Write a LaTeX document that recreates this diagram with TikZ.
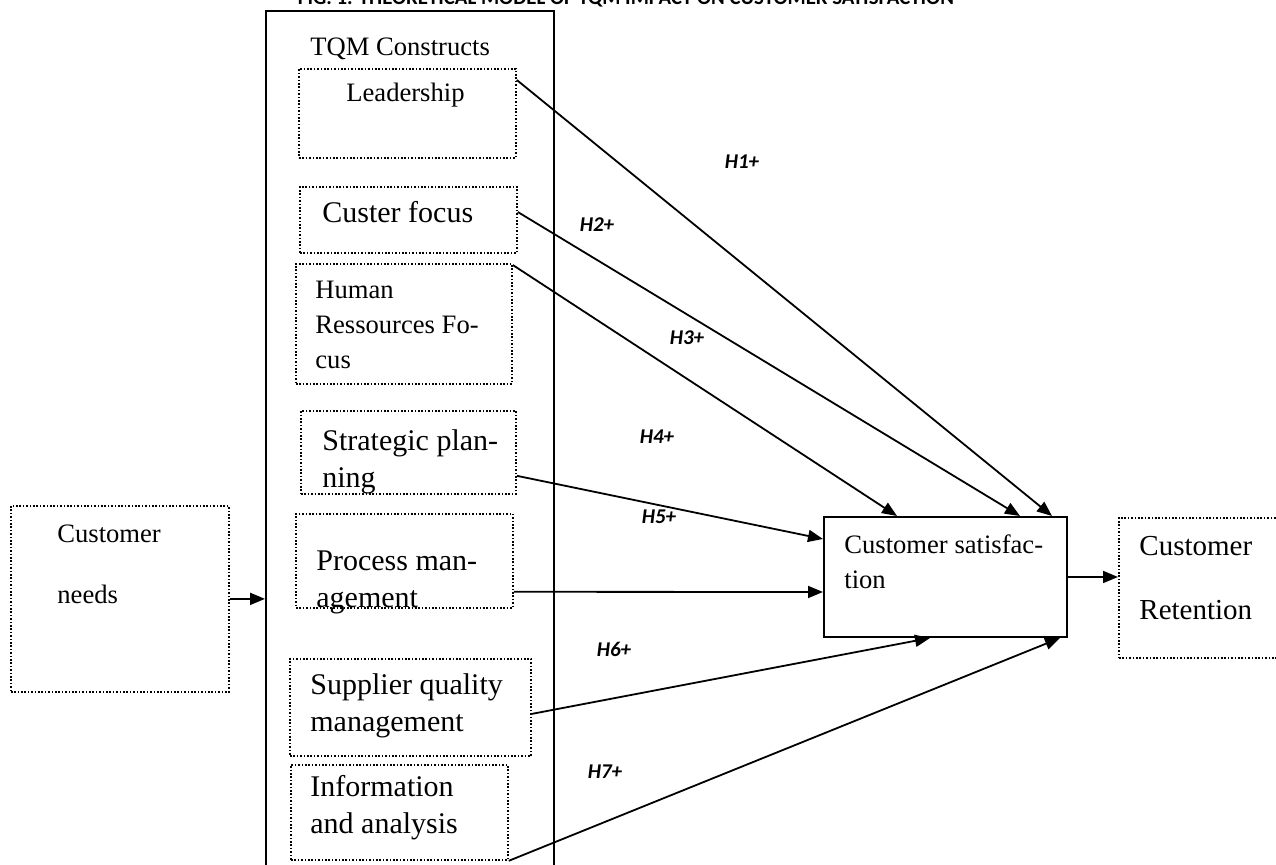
\documentclass[tikz,border=0pt]{standalone}
\usepackage{fontspec}
\setmainfont{Liberation Serif}
\newfontfamily\hypfont{Carlito}
\usetikzlibrary{arrows.meta}

\tikzset{
  dotbox/.style={draw, line width=0.9pt, dash pattern=on 0.8pt off 0.9pt,
    anchor=north west, inner sep=0pt},
  solidbox/.style={draw, line width=1pt, anchor=north west, inner sep=0pt},
  small/.style={anchor=base west, inner sep=0pt, align=left,
    font=\fontsize{13.3}{17.5}\selectfont},
  large/.style={anchor=base west, inner sep=0pt, align=left,
    font=\fontsize{15}{18.5}\selectfont},
  hyp/.style={inner sep=0pt, font=\hypfont\bfseries\itshape\fontsize{10.5}{12}\selectfont},
  arr/.style={line width=0.9pt, -{Triangle[length=7.5pt,width=6pt]}}
}

\begin{document}
\begin{tikzpicture}[x=0.5pt,y=-0.5pt]
\useasboundingbox (0,0) rectangle (1276,865);

% title, cut at the top of the page
\node[inner sep=0pt, anchor=base, font=\hypfont\bfseries\fontsize{10.4}{12}\selectfont]
  (title) at (626,4.5) {FIG. 1. THEORETICAL MODEL OF TQM IMPACT ON CUSTOMER SATISFACTION};

% boxes
\node[solidbox, minimum width=144pt, minimum height=440pt] (tqm)   at (265,10)  {};
\node[dotbox, minimum width=108.5pt, minimum height=44.5pt] (lead)  at (298,68)  {};
\node[dotbox, minimum width=108.5pt, minimum height=33pt]   (focus) at (299,186) {};
\node[dotbox, minimum width=108pt,   minimum height=60pt]   (human) at (295,263) {};
\node[dotbox, minimum width=107.5pt, minimum height=41.5pt] (strat) at (300,410) {};
\node[dotbox, minimum width=108.5pt, minimum height=47pt]   (proc)  at (295,513) {};
\node[dotbox, minimum width=120.5pt, minimum height=48.5pt] (supp)  at (289,658) {};
\node[dotbox, minimum width=108.5pt, minimum height=47.5pt] (info)  at (290,764) {};
\node[dotbox, minimum width=109pt,   minimum height=93pt]   (needs) at (10,505)  {};
\node[solidbox, minimum width=121.5pt, minimum height=60pt] (sat)   at (823,516) {};
\node[dotbox, minimum width=90pt,    minimum height=70pt]   (ret)   at (1118,517) {};

% texts (placed at the baseline of the last line)
\node[small] (tqmtxt)   at (310,56)  {TQM Constructs};
\node[small] (leadtxt)  at (346,102) {Leadership};
\node[large] (focustxt) at (322,223) {Custer focus};
\node[small] (humantxt) at (315,369) {Human\\Ressources Fo-\\cus};
\node[large] (strattxt) at (322,488) {Strategic plan-\\ning};
\node[large] (proctxt)  at (316,608) {Process man-\\agement};
\node[large] (supptxt)  at (310,732) {Supplier quality\\management};
\node[large] (infotxt)  at (310,834) {Information\\and analysis};
\node[small] (needstxt) at (57,604)  {Customer\\[13pt]needs};
\node[small] (sattxt)   at (844,589) {Customer satisfac-\\tion};
\node[large, font=\fontsize{14.5}{18}\selectfont] (rettxt) at (1139,620) {Customer\\[14pt]Retention};

% hypotheses
\node[hyp] (h1) at (742,162) {H1+};
\node[hyp] (h2) at (597,225) {H2+};
\node[hyp] (h3) at (687,338) {H3+};
\node[hyp] (h4) at (657,437) {H4+};
\node[hyp] (h5) at (659,517) {H5+};
\node[hyp] (h6) at (614,649) {H6+};
\node[hyp] (h7) at (605,772) {H7+};

% links
\draw[arr] (needs.east) -- (needs.east -| tqm.west);
\draw[arr] ([yshift=-6pt]lead.north east)    -- ([xshift=-8pt]sat.north east);
\draw[arr] ([yshift=-13pt]focus.north east)  -- ([xshift=-24pt]sat.north east);
\draw[arr] ([yshift=-1pt]human.north east)   -- ([xshift=37pt]sat.north west);
\draw[arr] ([yshift=9.5pt]strat.south east)  -- ([yshift=-11.5pt]sat.north west);
\draw[arr] ([yshift=8.5pt]proc.south east)   -- ([yshift=23pt]sat.south west);
\draw[arr] ([yshift=-3.25pt]supp.east)       -- ([xshift=53.5pt]sat.south west);
\draw[arr] (info.south east)                 -- ([xshift=-4pt]sat.south east);
\draw[arr] (sat.east) -- (sat.east -| ret.west);
\end{tikzpicture}
\end{document}
